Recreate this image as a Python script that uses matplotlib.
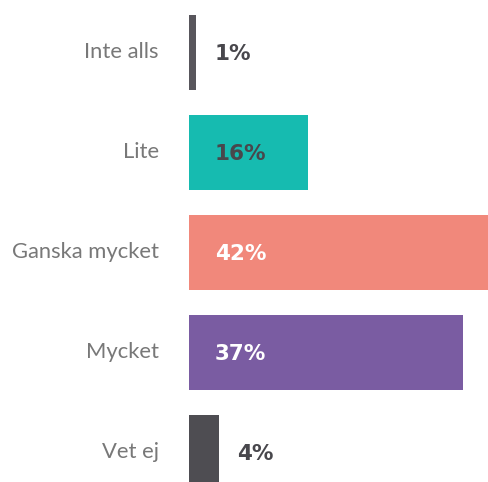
import matplotlib.pyplot as plt

# data
categories = ["Inte alls", "Lite", "Ganska mycket", "Mycket", "Vet ej"]
values = [1, 16, 42, 37, 4]

bar_colors = ["#58565c", "#16bbb0", "#f1887b", "#7a5ca2", "#4e4d52"]
label_colors = ["#48474c", "#48474c", "#ffffff", "#ffffff", "#48474c"]

fig = plt.figure(figsize=(4.89, 4.82), dpi=100)
ax = fig.add_axes([189 / 489, 0, 300 / 489, 1])

y = list(range(len(categories)))
ax.barh(y, values, height=0.75, color=bar_colors)

px = 300 / 40.5  # pixels per percent
ax.set_xlim(0, 40.5)
ax.set_ylim(4.30, -0.52)
ax.axis("off")

for i, v in enumerate(values):
    # value labels inside long bars, after short ones
    if v > 8:
        x = 26 / px
    else:
        x = v + 18 / px
    ax.text(x, i + 0.02, f"{v}%", va="center", ha="left", fontsize=15.5,
            fontweight="bold", family="DejaVu Sans", color=label_colors[i])
    # category labels left of the bars
    ax.text(-30 / px, i, categories[i], va="center", ha="right", fontsize=15.8,
            family=["Lato", "DejaVu Sans"], color="#787878", clip_on=False)

plt.savefig("out.png", dpi=100)
